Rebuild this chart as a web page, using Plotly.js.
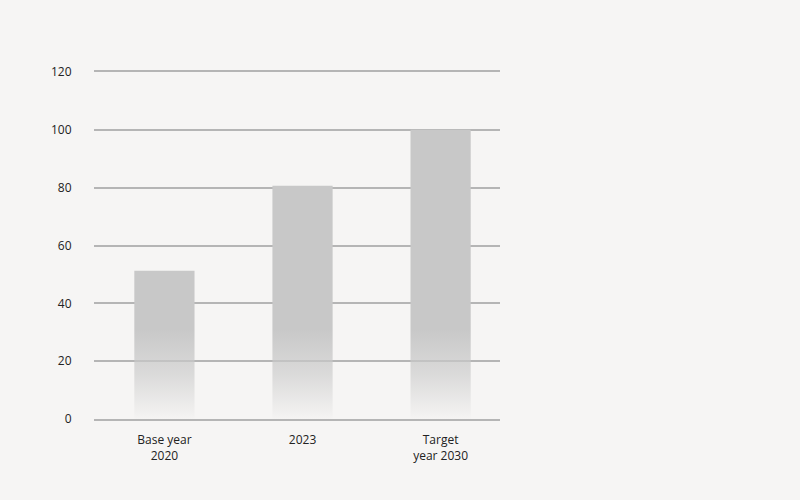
<!DOCTYPE html>
<html><head><meta charset="utf-8">
<script src="https://cdn.plot.ly/plotly-3.0.1.min.js"></script>
<style>html,body{margin:0;padding:0;background:#f6f5f4;}#chart{width:800px;height:500px;}</style>
</head><body><div id="chart"></div>
<script>
const categories = ["Base year<br>2020", "2023", "Target<br>year 2030"];
const values = [51.3, 80.7, 100];
const yTicks = [0, 20, 40, 60, 80, 100, 120];

const barHalf = 0.218;
const traces = values.map((v, i) => ({
  type: 'scatter',
  mode: 'lines',
  x: [i - barHalf, i + barHalf, i + barHalf, i - barHalf, i - barHalf],
  y: [0, 0, v, v, 0],
  fill: 'toself',
  line: {width: 0, color: 'rgba(0,0,0,0)'},
  fillgradient: {
    type: 'vertical',
    start: 0,
    stop: 31,
    colorscale: [[0, 'rgba(200,200,200,0.03)'], [0.5, 'rgba(200,200,200,0.6)'], [1, 'rgba(200,200,200,1)']]
  },
  hoverinfo: 'skip',
  showlegend: false
}));

const layout = {
  width: 800, height: 500,
  paper_bgcolor: '#f6f5f4', plot_bgcolor: '#f6f5f4',
  margin: {l: 94, r: 300, t: 72, b: 81},
  font: {family: '"Open Sans", Inter, sans-serif', size: 12, color: '#222'},
  xaxis: {
    range: [-0.51, 2.43],
    tickmode: 'array', tickvals: [0, 1, 2], ticktext: categories,
    showgrid: false, zeroline: false,
    showline: true, mirror: true, linecolor: '#b5b5b5', linewidth: 2,
    ticks: 'outside', ticklen: 9, tickcolor: 'rgba(0,0,0,0)',
    tickfont: {size: 12, color: '#222'}
  },
  yaxis: {
    range: [0, 120],
    tickmode: 'array', tickvals: yTicks,
    showgrid: true, gridcolor: '#b5b5b5', gridwidth: 2,
    zeroline: false, showline: false,
    ticks: 'outside', ticklen: 19, tickcolor: 'rgba(0,0,0,0)',
    tickfont: {size: 12, color: '#222'}
  }
};

Plotly.newPlot('chart', traces, layout, {displayModeBar: false, staticPlot: true});
</script></body></html>
